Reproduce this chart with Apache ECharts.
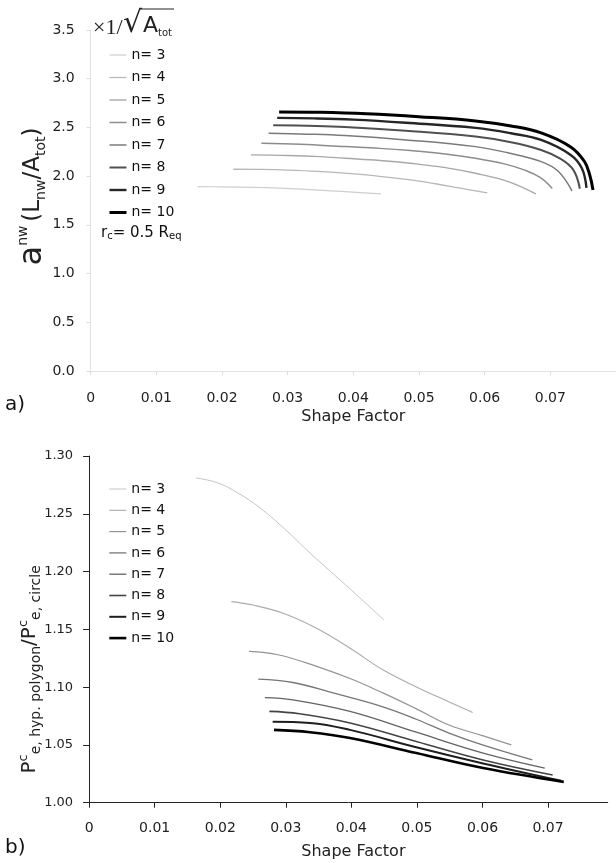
<!DOCTYPE html>
<html>
<head>
<meta charset="utf-8">
<script src="https://cdn.jsdelivr.net/npm/echarts@6/dist/echarts.min.js"></script>
<style>
  html, body { margin: 0; padding: 0; background: #ffffff; }
  #chart { width: 616px; height: 863px; }
</style>
</head>
<body>
<div id="chart"></div>
<script>
// ---- series labels ----
const seriesNames = ['n= 3', 'n= 4', 'n= 5', 'n= 6', 'n= 7', 'n= 8', 'n= 9', 'n= 10'];

// ---- panel a: specific interfacial area vs shape factor [G, a_nw] ----
const areaN3 = [[0.0163, 1.892], [0.0200, 1.890], [0.0250, 1.884], [0.0287, 1.876], [0.0340, 1.860], [0.0387, 1.841], [0.0442, 1.817]];
const areaN4 = [[0.0217, 2.071], [0.0260, 2.069], [0.0300, 2.062], [0.0345, 2.049], [0.0387, 2.030], [0.0440, 1.998], [0.0487, 1.961], [0.0525, 1.922], [0.0561, 1.879], [0.0604, 1.828]];
const areaN5 = [[0.0244, 2.218], [0.0300, 2.212], [0.0350, 2.200], [0.0387, 2.184], [0.0440, 2.161], [0.0487, 2.132], [0.0540, 2.088], [0.0586, 2.030], [0.0636, 1.944], [0.0678, 1.817]];
const areaN6 = [[0.0260, 2.338], [0.0320, 2.327], [0.0387, 2.303], [0.0440, 2.285], [0.0487, 2.262], [0.0540, 2.228], [0.0586, 2.184], [0.0630, 2.126], [0.0660, 2.064], [0.0685, 1.985], [0.0703, 1.872]];
const areaN7 = [[0.0271, 2.440], [0.0330, 2.431], [0.0387, 2.416], [0.0480, 2.372], [0.0586, 2.303], [0.0635, 2.240], [0.0686, 2.149], [0.0712, 2.050], [0.0733, 1.848]];
const areaN8 = [[0.0278, 2.523], [0.0330, 2.517], [0.0387, 2.505], [0.0480, 2.466], [0.0586, 2.406], [0.0640, 2.348], [0.0686, 2.269], [0.0715, 2.180], [0.0735, 2.064], [0.0745, 1.870]];
const areaN9 = [[0.0284, 2.598], [0.0340, 2.593], [0.0400, 2.580], [0.0480, 2.548], [0.0586, 2.495], [0.0640, 2.440], [0.0686, 2.372], [0.0731, 2.218], [0.0748, 2.080], [0.0755, 1.880]];
const areaN10 = [[0.0287, 2.659], [0.0350, 2.655], [0.0420, 2.640], [0.0500, 2.610], [0.0586, 2.567], [0.0640, 2.515], [0.0686, 2.444], [0.0731, 2.300], [0.0752, 2.150], [0.0760, 2.012], [0.0765, 1.858]];

// ---- panel b: entry pressure ratio (hyperbolic polygon / circle) vs shape factor ----
const pressN3 = [[0.0163, 1.281], [0.0195, 1.277], [0.0227, 1.268], [0.0261, 1.255], [0.0300, 1.236], [0.0337, 1.216], [0.0400, 1.184], [0.0450, 1.158]];
const pressN4 = [[0.0217, 1.174], [0.0250, 1.171], [0.0296, 1.164], [0.0347, 1.151], [0.0400, 1.133], [0.0448, 1.115], [0.0500, 1.100], [0.0550, 1.087], [0.0585, 1.078]];
const pressN5 = [[0.0244, 1.131], [0.0288, 1.128], [0.0347, 1.118], [0.0400, 1.107], [0.0448, 1.095], [0.0500, 1.081], [0.0550, 1.067], [0.0600, 1.058], [0.0644, 1.050]];
const pressN6 = [[0.0258, 1.107], [0.0311, 1.104], [0.0372, 1.095], [0.0448, 1.083], [0.0500, 1.072], [0.0550, 1.060], [0.0600, 1.050], [0.0676, 1.037]];
const pressN7 = [[0.0268, 1.091], [0.0311, 1.089], [0.0398, 1.079], [0.0499, 1.061], [0.0601, 1.043], [0.0695, 1.030]];
const pressN8 = [[0.0275, 1.079], [0.0321, 1.077], [0.0398, 1.069], [0.0499, 1.053], [0.0601, 1.037], [0.0707, 1.024]];
const pressN9 = [[0.0280, 1.070], [0.0337, 1.069], [0.0398, 1.063], [0.0499, 1.048], [0.0601, 1.034], [0.0720, 1.019]];
const pressN10 = [[0.0282, 1.063], [0.0337, 1.061], [0.0398, 1.056], [0.0499, 1.043], [0.0601, 1.030], [0.0724, 1.018]];

// ---- tick values ----
const shapeTicks = [0, 0.01, 0.02, 0.03, 0.04, 0.05, 0.06, 0.07];
const areaTicks = [0, 0.5, 1.0, 1.5, 2.0, 2.5, 3.0, 3.5];
const pressTicks = [1.00, 1.05, 1.10, 1.15, 1.20, 1.25, 1.30];

const areaData = [areaN3, areaN4, areaN5, areaN6, areaN7, areaN8, areaN9, areaN10];
const pressData = [pressN3, pressN4, pressN5, pressN6, pressN7, pressN8, pressN9, pressN10];

// ---- line styling: lighter and thinner for fewer sides ----
const areaColors = ['#cfcfcf', '#b8b8b8', '#a8a8a8', '#8c8c8c', '#7a7a7a', '#505050', '#262626', '#000000'];
const areaWidths = [1.2, 1.3, 1.4, 1.5, 1.5, 2.0, 2.4, 3.0];
const pressColors = ['#c6c6c6', '#ababab', '#939393', '#767676', '#636363', '#444444', '#1e1e1e', '#000000'];
const pressWidths = [1.0, 1.1, 1.2, 1.3, 1.3, 1.6, 2.0, 2.6];

const FONT = 'DejaVu Sans';

const chart = echarts.init(document.getElementById('chart'), null, { renderer: 'canvas' });

function lineSeries(data, i, gridIdx, colors, widths) {
  return {
    type: 'line',
    name: seriesNames[i],
    xAxisIndex: gridIdx,
    yAxisIndex: gridIdx,
    data: data,
    showSymbol: false,
    symbol: 'none',
    smooth: 0.4,
    silent: true,
    z: 2 + i,
    lineStyle: { color: colors[i], width: widths[i] },
    itemStyle: { color: colors[i] }
  };
}

function legendFor(top, gap, colors, widths) {
  return {
    orient: 'vertical',
    left: 103,
    top: top,
    itemWidth: 17,
    itemHeight: 14,
    itemGap: gap,
    selectedMode: false,
    itemStyle: { opacity: 0 },
    textStyle: { fontFamily: FONT, fontSize: 14, color: '#111', lineHeight: 14 },
    data: seriesNames.map((n, i) => ({
      name: n,
      itemStyle: { opacity: 0 },
      lineStyle: { color: colors[i], width: widths[i] }
    }))
  };
}

const xLabelFmt = v => (v === 0 ? '0' : v.toFixed(2));

const option = {
  backgroundColor: '#ffffff',
  animation: false,
  grid: [
    { left: 90.7, top: 30, width: 536, height: 341, containLabel: false },
    { left: 89.1, top: 456, width: 518.6, height: 346.7, containLabel: false }
  ],
  xAxis: [
    {
      type: 'value', gridIndex: 0, min: 0, max: 0.08,
      name: 'Shape Factor', nameLocation: 'middle', nameGap: 38, nameMoveOverlap: false,
      nameTextStyle: { fontFamily: FONT, fontSize: 16, color: '#222' },
      axisLine: { show: true, lineStyle: { color: '#e2e2e2', width: 1 } },
      axisTick: { show: true, length: 4, customValues: shapeTicks, lineStyle: { color: '#dcdcdc' } },
      axisLabel: { customValues: shapeTicks, formatter: xLabelFmt, margin: 20, fontFamily: FONT, fontSize: 14, color: '#222' },
      splitLine: { show: false }
    },
    {
      type: 'value', gridIndex: 1, min: 0, max: 0.0791,
      name: 'Shape Factor', nameLocation: 'middle', nameGap: 41, nameMoveOverlap: false,
      nameTextStyle: { fontFamily: FONT, fontSize: 16, color: '#222', padding: [0, 0, 0, 10] },
      axisLine: { show: true, lineStyle: { color: '#222', width: 1 } },
      axisTick: { show: true, length: 5, customValues: shapeTicks, lineStyle: { color: '#222' } },
      axisLabel: { customValues: shapeTicks, formatter: xLabelFmt, margin: 19, fontFamily: FONT, fontSize: 14, color: '#222' },
      splitLine: { show: false }
    }
  ],
  yAxis: [
    {
      type: 'value', gridIndex: 0, min: 0, max: 3.5,
      name: '{big|a}{sup|nw} {mid|(L}{sub|nw}{mid|/A}{sub|tot}{mid|)}',
      nameLocation: 'middle', nameRotate: 90, nameGap: 42, nameMoveOverlap: false,
      nameTextStyle: {
        fontFamily: FONT, color: '#222', padding: [0, 0, 0, 8],
        rich: {
          big: { fontFamily: FONT, fontSize: 32, color: '#222', lineHeight: 32 },
          sup: { fontFamily: FONT, fontSize: 14, color: '#222', verticalAlign: 'top', lineHeight: 32 },
          mid: { fontFamily: FONT, fontSize: 23, color: '#222', lineHeight: 32 },
          sub: { fontFamily: FONT, fontSize: 14, color: '#222', verticalAlign: 'bottom', lineHeight: 32 }
        }
      },
      axisLine: { show: true, lineStyle: { color: '#e2e2e2', width: 1 } },
      axisTick: { show: true, length: 4, customValues: areaTicks, lineStyle: { color: '#dcdcdc' } },
      axisLabel: { customValues: areaTicks, formatter: v => v.toFixed(1), margin: 16, fontFamily: FONT, fontSize: 14, color: '#222' },
      splitLine: { show: false }
    },
    {
      type: 'value', gridIndex: 1, min: 1.0, max: 1.3,
      name: '{big|P}{sup|c}{sub|e, hyp. polygon}{big|/P}{sup|c}{sub|e, circle}',
      nameLocation: 'middle', nameRotate: 90, nameGap: 46, nameMoveOverlap: false,
      nameTextStyle: {
        fontFamily: FONT, color: '#222', padding: [0, 80, 0, 0],
        rich: {
          big: { fontFamily: FONT, fontSize: 20, color: '#222', lineHeight: 26 },
          sup: { fontFamily: FONT, fontSize: 13, color: '#222', verticalAlign: 'top', lineHeight: 26 },
          sub: { fontFamily: FONT, fontSize: 14, color: '#222', verticalAlign: 'bottom', lineHeight: 26 }
        }
      },
      axisLine: { show: true, lineStyle: { color: '#222', width: 1 } },
      axisTick: { show: true, length: 6, customValues: pressTicks, lineStyle: { color: '#222' } },
      axisLabel: { customValues: pressTicks, formatter: v => v.toFixed(2), margin: 16, fontFamily: FONT, fontSize: 13, color: '#222' },
      splitLine: { show: false }
    }
  ],
  legend: [
    legendFor(43, 8.5, areaColors, areaWidths),
    legendFor(477, 7.3, pressColors, pressWidths)
  ],
  graphic: [
    {
      type: 'text', left: 93, top: 17,
      style: { text: '×1/', fontFamily: 'Liberation Serif', fontSize: 22, fill: '#222' }
    },
    {
      type: 'text', left: 123, top: 9,
      style: { text: '√', fontFamily: 'DejaVu Sans', fontSize: 30, fill: '#222' }
    },
    {
      type: 'text', left: 143, top: 15,
      style: {
        text: '{A|A}{s|tot}',
        rich: {
          A: { fontFamily: FONT, fontSize: 22, fill: '#222', lineHeight: 24 },
          s: { fontFamily: FONT, fontSize: 10, fill: '#222', verticalAlign: 'bottom', lineHeight: 24 }
        }
      }
    },
    {
      type: 'line', shape: { x1: 140, y1: 9, x2: 174, y2: 9 },
      style: { stroke: '#222', lineWidth: 1 }
    },
    {
      type: 'text', left: 101, top: 226,
      style: {
        text: '{t|r}{s|c}{t|= 0.5 R}{s|eq}',
        rich: {
          t: { fontFamily: FONT, fontSize: 15, fill: '#111' },
          s: { fontFamily: FONT, fontSize: 10, fill: '#111', verticalAlign: 'bottom' }
        }
      }
    },
    {
      type: 'text', left: 5, top: 395,
      style: { text: 'a)', fontFamily: FONT, fontSize: 20, fill: '#111' }
    },
    {
      type: 'text', left: 5, top: 838,
      style: { text: 'b)', fontFamily: FONT, fontSize: 20, fill: '#111' }
    }
  ],
  series: [
    ...areaData.map((d, i) => lineSeries(d, i, 0, areaColors, areaWidths)),
    ...pressData.map((d, i) => lineSeries(d, i, 1, pressColors, pressWidths))
  ]
};

chart.setOption(option);
</script>
</body>
</html>
